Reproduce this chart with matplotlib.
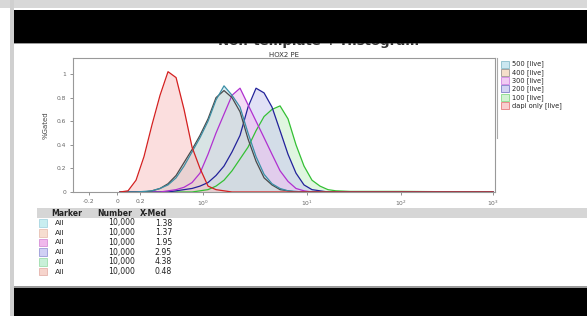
import numpy as np
import matplotlib
matplotlib.use("Agg")
import matplotlib.pyplot as plt
from matplotlib.patches import Rectangle
from matplotlib.lines import Line2D

# ---------------- data ----------------
x_vals = [0.019, 0.075, 0.150, 0.223, 0.276, 0.340, 0.417, 0.511, 0.624, 0.762,
          0.928, 1.118, 1.335, 1.594, 1.904, 2.273, 2.713, 3.24, 3.87, 4.61,
          5.51, 6.57, 7.84, 9.36, 11.3, 13.75, 16.7, 20.3, 28.7, 100.0, 1000.0]

y_500 = [0, 0, 0, 0.005, 0.01, 0.03, 0.06, 0.12, 0.22, 0.34, 0.46, 0.60, 0.78, 0.90,
         0.82, 0.72, 0.50, 0.30, 0.15, 0.07, 0.03, 0.01, 0.005, 0, 0, 0, 0, 0, 0, 0, 0]
y_400 = [0, 0, 0, 0, 0.01, 0.03, 0.07, 0.14, 0.25, 0.36, 0.48, 0.62, 0.80, 0.86,
         0.80, 0.68, 0.45, 0.26, 0.12, 0.06, 0.02, 0.01, 0, 0, 0, 0, 0, 0, 0, 0, 0]
y_300 = [0, 0, 0, 0, 0, 0, 0.01, 0.02, 0.04, 0.08, 0.16, 0.32, 0.50, 0.66,
         0.82, 0.88, 0.74, 0.60, 0.46, 0.32, 0.18, 0.09, 0.03, 0.01, 0, 0, 0, 0, 0, 0, 0]
y_200 = [0, 0, 0, 0, 0, 0, 0, 0.01, 0.02, 0.03, 0.05, 0.08, 0.14, 0.22,
         0.34, 0.48, 0.72, 0.88, 0.84, 0.72, 0.52, 0.32, 0.16, 0.06, 0.02, 0.01, 0, 0, 0, 0, 0]
y_100 = [0, 0, 0, 0, 0, 0, 0, 0, 0, 0, 0.01, 0.02, 0.05, 0.10,
         0.18, 0.28, 0.38, 0.52, 0.64, 0.70, 0.73, 0.62, 0.40, 0.22, 0.10, 0.05, 0.02, 0.01, 0.005, 0.005, 0]
y_dapi = [0, 0.01, 0.10, 0.30, 0.57, 0.82, 1.02, 0.97, 0.70, 0.38, 0.20, 0.05, 0.02, 0.01,
          0, 0, 0, 0, 0, 0, 0, 0, 0, 0, 0, 0, 0, 0, 0, 0, 0]

labels = ["500 [live]", "400 [live]", "300 [live]", "200 [live]", "100 [live]", "dapi only [live]"]
series = [y_500, y_400, y_300, y_200, y_100, y_dapi]
line_colors = ["#3b8fa6", "#4a4a4a", "#b030d0", "#22229a", "#34c034", "#d42020"]
fill_colors = ["#bfe2ee", "#f3d6bd", "#eec0f0", "#c9c9f0", "#c8f0c8", "#f8c4c4"]

tbl_marker = ["All"] * 6
tbl_number = ["10,000"] * 6
tbl_xmed = ["1.38", "1.37", "1.95", "2.95", "4.38", "0.48"]
tbl_swatch = ["#c8eef0", "#f6ddd0", "#f0b8ec", "#d0d0f4", "#c8f0d8", "#f6d4cc"]
tbl_edge = ["#9ccfdc", "#e4b8a8", "#d080d0", "#8a8ad0", "#90d8a0", "#e0a8a0"]

xtick_vals = [-0.2, 0, 0.2, 1, 10, 100, 1000]
xtick_labels = ["-0.2", "0", "0.2", r"$10^0$", r"$10^1$", r"$10^2$", r"$10^3$"]
ytick_vals = [0, 0.2, 0.4, 0.6, 0.8, 1]
ytick_labels = ["0", "0.2", "0.4", "0.6", "0.8", "1"]

# --------------- scale (biexponential-like) ---------------
_anc_x = np.array([-1, -0.2, 0, 0.2, 1, 10, 100, 1000, 10000])
_anc_u = np.arcsinh(_anc_x / 0.1)
_anc_p = np.array([59, 89, 117, 140, 203, 307, 401, 493, 585], dtype=float)

def fwd(x):
    return np.interp(np.arcsinh(np.asarray(x, dtype=float) / 0.1), _anc_u, _anc_p)

def inv(p):
    return 0.1 * np.sinh(np.interp(np.asarray(p, dtype=float), _anc_p, _anc_u))

W, H = 587, 316
fig = plt.figure(figsize=(W / 100, H / 100), dpi=100)
fig.patch.set_facecolor("white")

def fx(x): return x / W
def fy(y): return 1 - y / H

ax = fig.add_axes([fx(73), fy(192), (495 - 73) / W, (192 - 58) / H])
ax.set_xscale("function", functions=(fwd, inv))
ax.set_xlim(float(inv(73)), float(inv(495)))
ax.set_ylim(0, 1.136)

order = [4, 3, 2, 1, 0, 5]
for i in order:
    ax.fill_between(x_vals, series[i], 0, color=fill_colors[i], alpha=0.55, lw=0, zorder=2)
for i in order:
    ax.plot(x_vals, series[i], color=line_colors[i], lw=0.9, zorder=3)

ax.set_xticks(xtick_vals)
ax.set_xticklabels(xtick_labels, fontsize=4.3, color="#444444")
ax.set_yticks(ytick_vals)
ax.set_yticklabels(ytick_labels, fontsize=4.3, color="#444444")
ax.tick_params(length=2, width=0.5, pad=3, colors="#666666")
for s in ax.spines.values():
    s.set_color("#999999")
    s.set_linewidth(0.8)
ax.set_ylabel("%Gated", fontsize=5, color="#444444", labelpad=6)

# ---------------- frame decorations ----------------
def rect(x0, y0, x1, y1, color, z=10):
    fig.add_artist(Rectangle((fx(x0), fy(y1)), (x1 - x0) / W, (y1 - y0) / H,
                             transform=fig.transFigure, facecolor=color,
                             edgecolor="none", zorder=z))

rect(0, 0, W, 8, "#d8d8d8")
rect(10, 0, 14, H, "#d0d0d0")
fig.text(fx(318), fy(41.5), "Non-template + Histogram", ha="center", va="center",
         fontsize=9.5, fontweight="bold", color="#333333", zorder=5)
rect(14, 10, W, 43, "#000000")
rect(14, 43, W, 44, "#9a9a9a", z=4)
fig.text(fx(284), fy(55), "HOX2 PE", ha="center", va="center", fontsize=5, color="#333333")

# right vertical line near legend
fig.add_artist(Line2D([fx(497), fx(497)], [fy(58), fy(138)], transform=fig.transFigure,
                      color="#aaaaaa", lw=0.8))

# legend
for k, lab in enumerate(labels):
    yy = 64 + k * 8.3
    fig.add_artist(Rectangle((fx(501), fy(yy + 3.5)), 8 / W, 7 / H, transform=fig.transFigure,
                             facecolor=fill_colors[k], edgecolor=line_colors[k], lw=0.4, alpha=0.8))
    fig.text(fx(512), fy(yy), lab, ha="left", va="center", fontsize=4.8, color="#222222")

# table
rect(37, 208, W, 218, "#d6d6d6", z=1)
fig.text(fx(51), fy(213), "Marker", ha="left", va="center", fontsize=5.6, fontweight="bold", color="#222222")
fig.text(fx(97), fy(213), "Number", ha="left", va="center", fontsize=5.6, fontweight="bold", color="#222222")
fig.text(fx(140), fy(213), "X-Med", ha="left", va="center", fontsize=5.6, fontweight="bold", color="#222222")
for k in range(6):
    yy = 223 + k * 9.7
    fig.add_artist(Rectangle((fx(39), fy(yy + 3.8)), 8 / W, 7.5 / H, transform=fig.transFigure,
                             facecolor=tbl_swatch[k], edgecolor=tbl_edge[k], lw=0.5))
    fig.text(fx(55), fy(yy), tbl_marker[k], ha="left", va="center", fontsize=5.4, color="#222222")
    fig.text(fx(135), fy(yy), tbl_number[k], ha="right", va="center", fontsize=5.6, color="#222222")
    fig.text(fx(172), fy(yy), tbl_xmed[k], ha="right", va="center", fontsize=5.6, color="#222222")

rect(14, 286, W, 288, "#9a9a9a")
rect(14, 288, W, H, "#000000")

fig.savefig("out.png", dpi=100)
